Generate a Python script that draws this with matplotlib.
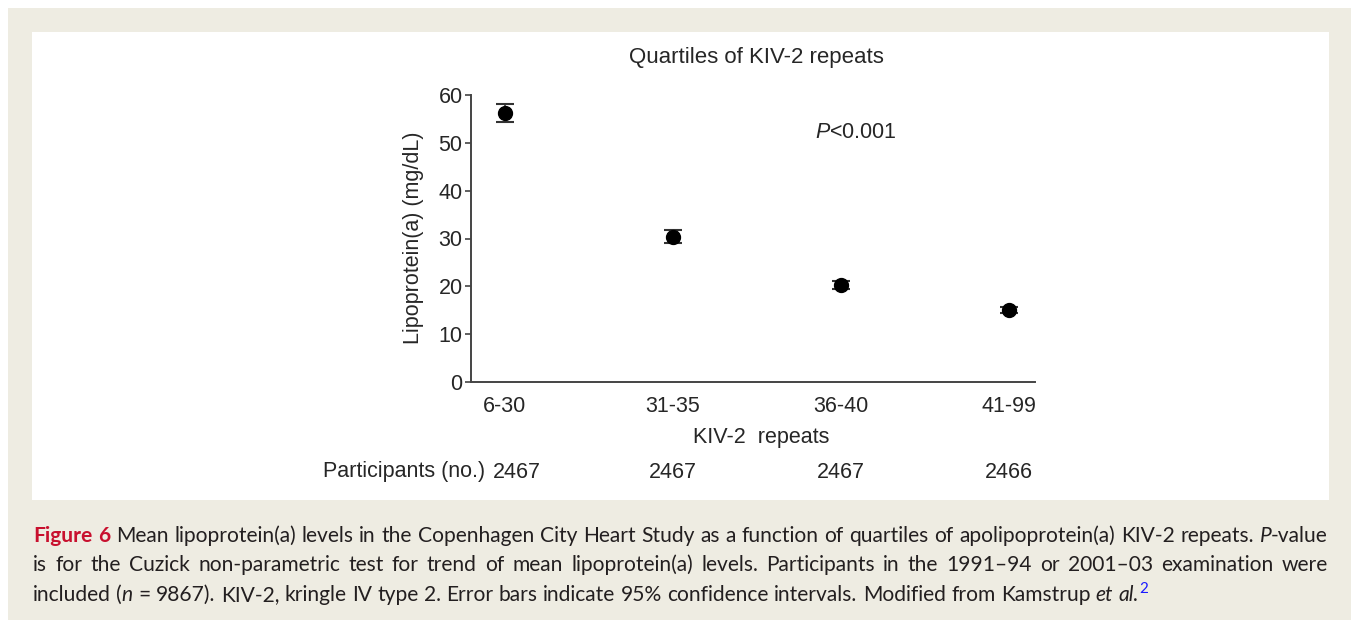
import matplotlib
matplotlib.use('Agg')
import matplotlib.pyplot as plt
from matplotlib.patches import Rectangle
from matplotlib.transforms import ScaledTranslation, blended_transform_factory

# ---------------- data ----------------
categories = ['6-30', '31-35', '36-40', '41-99']
means = [56.3, 30.4, 20.3, 15.1]
ci_low = [54.3, 29.0, 19.5, 14.5]
ci_high = [58.1, 31.8, 21.1, 15.7]
participants = ['2467', '2467', '2467', '2466']
yticks = [0, 10, 20, 30, 40, 50, 60]
title = 'Quartiles of KIV-2 repeats'
ylabel = 'Lipoprotein(a) (mg/dL)'
xlabel = 'KIV-2  repeats'
row_label = 'Participants (no.)'
pvalue_text = '$\\mathit{P}$<0.001'

W, H = 1351, 620
BEIGE = '#eeece2'
TXT = '#262626'
FS = 15.5

plt.rcParams['mathtext.fontset'] = 'custom'
plt.rcParams['mathtext.it'] = 'Liberation Sans:italic'
plt.rcParams['mathtext.rm'] = 'Liberation Sans'
plt.rcParams['font.family'] = ['Liberation Sans', 'DejaVu Sans']

fig = plt.figure(figsize=(W / 100, H / 100), dpi=100)
fig.patch.set_facecolor('white')

def px(x, y):
    return x / W, 1 - y / H

fig.patches.append(Rectangle((8 / W, 0), (W - 8) / W, (H - 8) / H,
                             transform=fig.transFigure, facecolor=BEIGE,
                             edgecolor='none', zorder=-2))
fig.patches.append(Rectangle((32 / W, 1 - 500 / H), (1329 - 32) / W, (500 - 32) / H,
                             transform=fig.transFigure, facecolor='white',
                             edgecolor='none', zorder=-1))

# ---------------- axes ----------------
ax_l, ax_r, ax_t, ax_b = 471, 1035, 95, 382
ax = fig.add_axes([ax_l / W, 1 - ax_b / H, (ax_r - ax_l) / W, (ax_b - ax_t) / H])
ax.patch.set_alpha(0)
xpos = list(range(len(categories)))
yerr = [[m - lo for m, lo in zip(means, ci_low)], [hi - m for m, hi in zip(means, ci_high)]]
ax.errorbar(xpos, means, yerr=yerr, fmt='o', color='black', ms=10,
            ecolor='#333333', elinewidth=1.2, capsize=6.5, capthick=1.5, zorder=3)
ax.set_xlim(-0.202, 3.155)
ax.set_ylim(0, 60)
ax.set_yticks(yticks)
ax.set_xticks(xpos)
ax.set_xticklabels(categories)
for s in ['top', 'right']:
    ax.spines[s].set_visible(False)
for s in ['left', 'bottom']:
    ax.spines[s].set_color('#444444')
    ax.spines[s].set_linewidth(1.4)
ax.tick_params(axis='y', direction='out', length=4.5, width=1.2, color='#444444',
               labelsize=FS, labelcolor=TXT, pad=1.5)
ax.tick_params(axis='x', length=0, labelsize=FS, labelcolor=TXT, pad=10)

fig.text(*px(756, 57), title, ha='center', va='center', fontsize=16, color=TXT)
fig.text(*px(414, 238), ylabel, ha='center', va='center', rotation=90,
         fontsize=FS, color=TXT)
fig.text(*px(761, 438), xlabel, ha='center', va='center', fontsize=FS, color=TXT)
fig.text(*px(856, 133), pvalue_text, ha='center', va='center', fontsize=FS, color=TXT)

# participants row
btrans = blended_transform_factory(ax.transData, fig.transFigure)
fig.text(*px(485, 472), row_label, ha='right', va='center', fontsize=FS, color=TXT)
for i, n in enumerate(participants):
    off = 12 / 100 if i == 0 else 0
    tr = btrans + ScaledTranslation(off, 0, fig.dpi_scale_trans)
    fig.text(i, 1 - 472 / H, n, ha='center', va='center', fontsize=FS,
             color=TXT, transform=tr)

# ---------------- caption ----------------
CAP_FONT = 'Lato'
RED = '#c8102e'
REG = dict(family=CAP_FONT, color='#231f20')
ITA = dict(family=CAP_FONT, color='#231f20', style='italic')
BLD = dict(family=CAP_FONT, color=RED, weight='bold')
SUP = dict(family=CAP_FONT, color='#1a1aff')

line1 = [[('Figure', BLD)], [('6', BLD)]] + \
    [[(w, REG)] for w in 'Mean lipoprotein(a) levels in the Copenhagen City Heart Study as a function of quartiles of apolipoprotein(a) KIV-2 repeats.'.split()] + \
    [[('P', ITA), ('-value', REG)]]
line2 = [[(w, REG)] for w in 'is for the Cuzick non-parametric test for trend of mean lipoprotein(a) levels. Participants in the 1991\u201394 or 2001\u201303 examination were'.split()]
line3 = [[('included', REG)], [('(', REG), ('n', ITA)], [('=', REG)]] + \
    [[(w, REG)] for w in '9867). KIV-2, kringle IV type 2. Error bars indicate 95% confidence intervals. Modified from Kamstrup'.split()] + \
    [[('et', ITA)], [('al.', ITA), ('2', SUP)]]

renderer = fig.canvas.get_renderer()

def seg_width(text, props, size):
    t = fig.text(0, 0, text, fontsize=size, **props)
    w = t.get_window_extent(renderer).width
    t.remove()
    return w

def space_width(size):
    return seg_width('a a', REG, size) - seg_width('aa', REG, size)

def word_segs(word, size):
    out = []
    for text, props in word:
        s = size * 0.72 if props is SUP else size
        out.append((text, props, s, seg_width(text, props, s)))
    return out

X0, X1 = 33, 1328

def natural_width(words, size):
    tot = sum(sum(seg[3] for seg in word_segs(w, size)) for w in words)
    return tot + space_width(size) * (len(words) - 1)

size = 15.5
while max(natural_width(line1, size), natural_width(line2, size)) > (X1 - X0) * 0.995:
    size -= 0.1

def draw_line(words, baseline, justify):
    ws = [word_segs(w, size) for w in words]
    widths = [sum(s[3] for s in w) for w in ws]
    if justify:
        gap = ((X1 - X0) - sum(widths)) / (len(words) - 1)
    else:
        gap = space_width(size)
    x = X0
    for w, wd in zip(ws, widths):
        xx = x
        for text, props, s, sw in w:
            dy = 8 if props is SUP else 0
            fig.text(xx / W, 1 - (baseline - dy) / H, text, fontsize=s,
                     ha='left', va='baseline', **props)
            xx += sw
        x += wd + gap

draw_line(line1, 542, True)
draw_line(line2, 571, True)
draw_line(line3, 601, False)

fig.savefig('out.png', dpi=100, facecolor=fig.get_facecolor())
